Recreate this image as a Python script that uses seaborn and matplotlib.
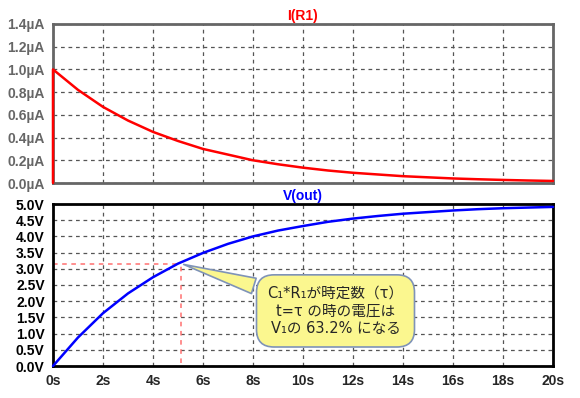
import matplotlib
matplotlib.use("Agg")
import matplotlib.pyplot as plt
import seaborn as sns
import numpy as np
import pandas as pd

# time axis (s)
t_sec = [0, 0, 1, 2, 3, 4, 5, 6, 7, 8, 9, 10, 11, 12, 13, 14, 15, 16, 17, 18, 19, 20]
# I(R1) in uA (vertical jump at t=0)
i_r1 = [0.0, 1.0, 0.82, 0.67, 0.55, 0.45, 0.37, 0.30, 0.25, 0.20, 0.165, 0.135,
        0.11, 0.09, 0.075, 0.06, 0.05, 0.04, 0.033, 0.027, 0.022, 0.018]
# V(out) in V
v_time = [0, 1, 2, 3, 4, 5, 6, 7, 8, 9, 10, 11, 12, 13, 14, 15, 16, 17, 18, 19, 20]
v_out = [0.0, 0.88, 1.63, 2.24, 2.74, 3.16, 3.49, 3.77, 4.00, 4.18, 4.32, 4.45,
         4.55, 4.63, 4.70, 4.75, 4.80, 4.84, 4.87, 4.89, 4.91]

tau = 5.12
v_tau = 3.16

x_ticks = list(range(0, 21, 2))
i_ticks = [0.0, 0.2, 0.4, 0.6, 0.8, 1.0, 1.2, 1.4]
v_ticks = [0.0, 0.5, 1.0, 1.5, 2.0, 2.5, 3.0, 3.5, 4.0, 4.5, 5.0]

note_lines = ["C\u2081*R\u2081が時定数（τ）", "t=τ の時の電圧は", "V\u2081の 63.2% になる"]

sns.set_style("white")
plt.rcParams['font.family'] = ['Liberation Sans', 'DejaVu Sans']

fig = plt.figure(figsize=(5.8, 3.98), dpi=100)
ax1 = fig.add_axes([53 / 580, 1 - 183 / 398, 500 / 580, 159 / 398])
ax2 = fig.add_axes([53 / 580, 1 - 366 / 398, 500 / 580, 162 / 398])

df_i = pd.DataFrame({"t": t_sec, "i": i_r1})
df_v = pd.DataFrame({"t": v_time, "v": v_out})

sns.lineplot(data=df_i, x="t", y="i", ax=ax1, color="#ff0000", lw=1.8, sort=False,
             estimator=None, zorder=4, clip_on=False)
sns.lineplot(data=df_v, x="t", y="v", ax=ax2, color="#0000ff", lw=1.8, estimator=None,
             zorder=4, clip_on=False)


def style_axis(ax, yticks, fmt, col):
    ax.set_xlim(0, 20)
    ax.set_ylim(yticks[0], yticks[-1])
    ax.set_xticks(x_ticks)
    ax.set_yticks(yticks)
    ax.set_yticklabels([fmt.format(v) for v in yticks], fontsize=10,
                       fontweight="bold", color=col)
    ax.grid(True, ls=(0, (3, 3)), color="#555555", lw=0.9)
    for s in ax.spines.values():
        s.set_color(col)
        s.set_linewidth(2)
    ax.tick_params(axis="y", direction="out", length=5, width=1.8, color=col, pad=1)
    ax.set_xlabel("")
    ax.set_ylabel("")


style_axis(ax1, i_ticks, "{:.1f}µA", "#666666")
ax1.tick_params(axis="x", length=0, labelbottom=False)
ax1.set_title("I(R1)", color="#ff0000", fontsize=10, fontweight="bold", pad=3)

style_axis(ax2, v_ticks, "{:.1f}V", "#000000")
ax2.set_xticklabels([f"{x}s" for x in x_ticks], fontsize=10, fontweight="bold")
ax2.tick_params(axis="x", direction="out", length=5, width=1.8, color="#000000", pad=1)
ax2.set_title("V(out)", color="#0000ff", fontsize=10, fontweight="bold", pad=3)

# tau markers
ax2.plot([0, tau], [v_tau, v_tau], ls=(0, (3, 3)), color="#ff7070", lw=1.1)
ax2.plot([tau, tau], [0.1, v_tau], ls=(0, (3, 3)), color="#ff7070", lw=1.1)

ax2.annotate("\n".join(note_lines), xy=(tau, v_tau), xytext=(11.3, 1.7),
             ha="center", va="center", fontsize=10.5, linespacing=1.22,
             family=["DejaVu Sans", "Noto Sans CJK JP"],
             bbox=dict(boxstyle="round,pad=0.75,rounding_size=1.2",
                       fc="#fbf78f", ec="#7f93b8", lw=1.2),
             arrowprops=dict(arrowstyle="wedge,tail_width=1.1,shrink_factor=0.5",
                             fc="#fbf78f", ec="#7f93b8", lw=1.2),
             zorder=5)

fig.savefig("out.png", dpi=100)
